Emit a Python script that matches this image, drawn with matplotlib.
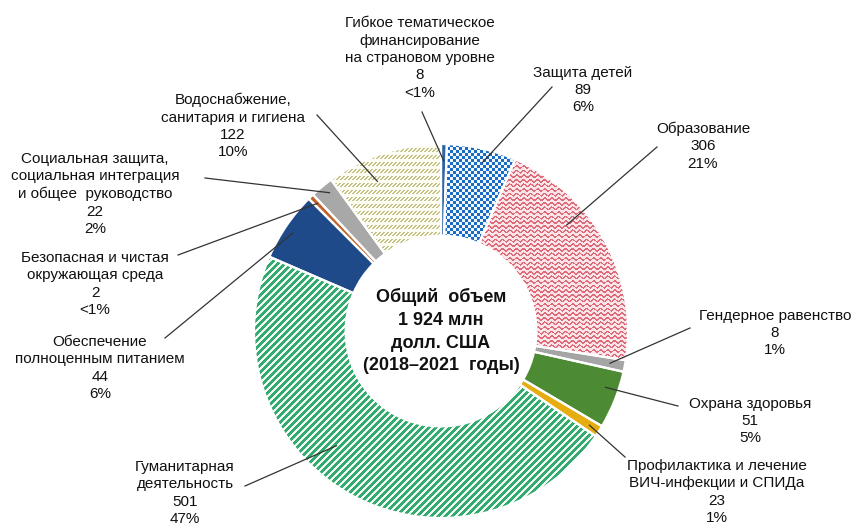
import numpy as np
import matplotlib
matplotlib.use("Agg")
import matplotlib.pyplot as plt

plt.rcParams['font.family'] = ['Liberation Sans', 'DejaVu Sans']

# Data (clockwise from 12 o'clock)
names = ["Гибкое тематическое\nфинансирование\nна страновом уровне",
         "Защита детей",
         "Образование",
         "Гендерное равенство",
         "Охрана здоровья",
         "Профилактика и лечение\nВИЧ-инфекции и СПИДа",
         "Гуманитарная\nдеятельность",
         "Обеспечение\nполноценным питанием",
         "Безопасная и чистая\nокружающая среда",
         "Социальная защита,\nсоциальная интеграция\nи общее  руководство",
         "Водоснабжение,\nсанитария и гигиена"]
amounts = [8, 89, 306, 8, 51, 23, 501, 44, 2, 22, 122]
pct_labels = ["<1%", "6%", "21%", "1%", "5%", "1%", "47%", "6%", "<1%", "2%", "10%"]
shares = [0.5, 6, 21, 1, 5, 1, 47, 6, 0.5, 2, 10]   # slice sizes, %
total_text = "Общий  объем\n1 924 млн\nдолл. США\n(2018–2021  годы)"

# styling
colors = ['#2f62a6', '#1a6cc4', '#e0707e', '#a5a5a5', '#4c8a34', '#e6ad12',
          '#2ea86a', '#1f4a8a', '#c0622a', '#a8a8a8', '#c9c79a']
textures = [None, 'checker', 'waves', None, None, None,
            'stripes', None, None, None, 'dashes']

W, H = 860, 526
cx, cy, R = 441, H - 331, 187

# label layout in image pixels: text centre, leader start; leader tip as
# (fraction along wedge, radius fraction)
text_pos = [(420, 58), (583, 90), (703, 146), (775, 333), (750, 421),
            (717, 492), (185, 493), (100, 368), (95, 284), (95, 194), (233, 126)]
line_start = [(422, 112), (552, 87), (657, 147), (690, 328), (678, 406),
              (625, 457), (245, 486), (165, 338), (178, 255), (205, 178), (317, 115)]
tips = [(0.5, 0.91), (0.56, 0.93), (0.35, 0.88), (0.5, 0.92), (0.35, 0.93),
        (0.5, 0.94), (0.58, 0.83), (0.47, 0.95), (0.5, 0.95), (0.6, 0.95), (0.36, 0.87)]

fig = plt.figure(figsize=(8.6, 5.26), dpi=100)
ax = fig.add_axes([0, 0, 1, 1])

wedges, _ = ax.pie(shares, colors=colors, startangle=90, counterclock=False,
                   center=(cx, cy), radius=R,
                   wedgeprops=dict(width=R * 0.49, edgecolor='none'))

# textures drawn as images clipped to wedges
xx, yy = np.meshgrid(np.arange(W), np.arange(H))


def make_texture(kind):
    img = np.ones((H, W, 3))
    if kind == 'checker':
        fg, bg = np.array([0.10, 0.42, 0.77]), np.array([0.94, 0.97, 0.99])
        mask = ((xx // 3 + yy // 3) % 2) == 0
    elif kind == 'waves':
        fg, bg = np.array([0.87, 0.42, 0.48]), np.array([0.99, 0.90, 0.91])
        d = (yy - 1.2 * np.sin(2 * np.pi * xx / 7)) % 4.6
        mask = d < 1.8
    elif kind == 'stripes':
        fg, bg = np.array([0.20, 0.67, 0.44]), np.array([0.95, 0.99, 0.96])
        mask = ((xx + yy) % 7) < 4
    else:  # dashes
        fg, bg = np.array([0.77, 0.76, 0.54]), np.array([0.99, 0.99, 0.95])
        r = yy % 7
        mask = (r >= 1) & (r <= 4) & (((xx + r) % 4) < 2)
    img[mask] = fg
    img[~mask] = bg
    return img


for w, kind in zip(wedges, textures):
    if kind is None:
        continue
    im = ax.imshow(make_texture(kind), extent=(0, W, 0, H), origin='upper',
                   interpolation='nearest', zorder=2)
    im.set_clip_path(w)

# white separators on top
ax.pie(shares, startangle=90, counterclock=False, center=(cx, cy), radius=R,
       wedgeprops=dict(width=R * 0.49, fill=False, edgecolor='white',
                       linewidth=1.6, zorder=3))

# labels with leader lines
for w, name, amt, pct, tp, ls, tip in zip(wedges, names, amounts, pct_labels,
                                          text_pos, line_start, tips):
    frac, rf = tip
    ang = np.deg2rad(w.theta1 + (w.theta2 - w.theta1) * (1 - frac))
    tx, ty = cx + rf * R * np.cos(ang), cy + rf * R * np.sin(ang)
    ax.plot([ls[0], tx], [H - ls[1], ty], color='#333333', lw=0.9, zorder=4)
    ax.text(tp[0], H - tp[1], f"{name}\n{amt}\n{pct}", ha='center', va='center',
            fontsize=11, linespacing=1.3, color='#111111', zorder=5)

ax.text(cx, cy, total_text, ha='center', va='center', fontsize=13,
        fontweight='bold', linespacing=1.46, color='#111111', zorder=5)

ax.set_xlim(0, W)
ax.set_ylim(0, H)
ax.set_aspect('equal')
ax.axis('off')

fig.savefig('out.png', dpi=100)
